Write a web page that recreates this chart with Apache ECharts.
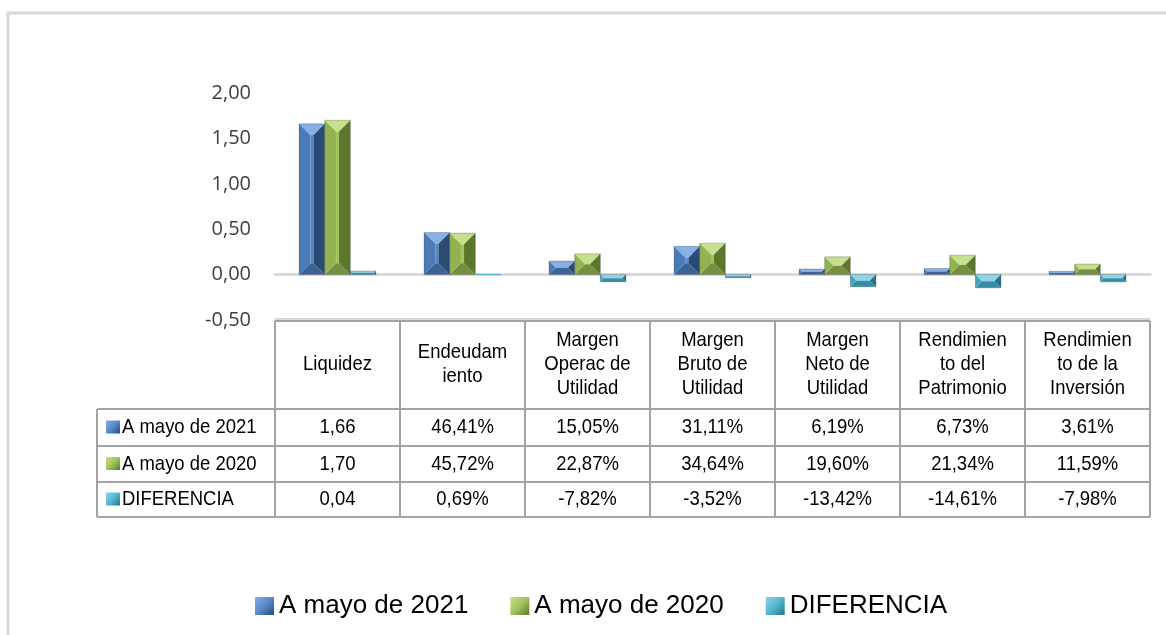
<!DOCTYPE html>
<html>
<head>
<meta charset="utf-8">
<script src="https://cdn.jsdelivr.net/npm/echarts@6/dist/echarts.min.js"></script>
<style>
  html, body { margin: 0; padding: 0; background: #fff; }
  #main { width: 1166px; height: 635px; }
</style>
</head>
<body>
<div id="main"></div>
<script>
  // datos
  const categorias = ['Liquidez', 'Endeudam\niento', 'Margen\nOperac de\nUtilidad', 'Margen\nBruto de\nUtilidad',
    'Margen\nNeto de\nUtilidad', 'Rendimien\nto del\nPatrimonio', 'Rendimien\nto de la\nInversión'];
  const mayo2021 = [1.66, 0.4641, 0.1505, 0.3111, 0.0619, 0.0673, 0.0361];
  const mayo2020 = [1.70, 0.4572, 0.2287, 0.3464, 0.1960, 0.2134, 0.1159];
  const diferencia = [0.04, 0.0069, -0.0782, -0.0352, -0.1342, -0.1461, -0.0798];
  const nombres = ['A mayo de 2021', 'A mayo de 2020', 'DIFERENCIA'];
  const yMin = -0.5, yMax = 2, yPaso = 0.5;

  // colores del bisel (arriba, izquierda, frente, derecha, abajo)
  const paletas = [
    { top: '#86b0e6', left: '#4a7bb7', front: '#5689c8', right: '#2b4b74', bottom: '#3a6396' },
    { top: '#c6e08e', left: '#93b353', front: '#a2c35e', right: '#5c772c', bottom: '#778f40' },
    { top: '#8dd5ea', left: '#44a3bd', front: '#52b6d2', right: '#287287', bottom: '#358ca4' }
  ];

  const fmt = (v, i) => i === 0 ? v.toFixed(2).replace('.', ',') : (v * 100).toFixed(2).replace('.', ',') + '%';

  function bisel(k) {
    const p = paletas[k];
    return function (params, api) {
      const i = api.value(0), v = api.value(1);
      const band = api.size([1, 0])[0];
      const w = band * 0.205;
      const c0 = api.coord([i, 0]);
      const c1 = api.coord([i, v]);
      const x0 = c0[0] + (k - 1.5) * w, x1 = x0 + w;
      const ya = Math.min(c0[1], c1[1]), yb = Math.max(c0[1], c1[1]);
      const h = yb - ya;
      if (h < 2) {
        return { type: 'rect', shape: { x: x0, y: ya, width: w, height: Math.max(h, 1) }, style: { fill: p.front } };
      }
      const d = Math.min(w * 0.44, h / 2);
      const xl = x0 + d, xr = x1 - d;
      return {
        type: 'group',
        children: [
          { type: 'rect', shape: { x: xl, y: ya + d, width: xr - xl, height: h - 2 * d }, style: { fill: p.front } },
          { type: 'polygon', shape: { points: [[x0, ya], [x1, ya], [xr, ya + d], [xl, ya + d]] }, style: { fill: p.top } },
          { type: 'polygon', shape: { points: [[x0, yb], [x1, yb], [xr, yb - d], [xl, yb - d]] }, style: { fill: p.bottom } },
          { type: 'polygon', shape: { points: [[x0, ya], [xl, ya + d], [xl, yb - d], [x0, yb]] }, style: { fill: p.left } },
          { type: 'polygon', shape: { points: [[x1, ya], [xr, ya + d], [xr, yb - d], [x1, yb]] }, style: { fill: p.right } },
          { type: 'rect', shape: { x: x0, y: ya, width: w, height: h }, style: { fill: null, stroke: 'rgba(0,0,0,0.3)', lineWidth: 0.7 } }
        ]
      };
    };
  }

  const chart = echarts.init(document.getElementById('main'));
  const series = [mayo2021, mayo2020, diferencia].map((arr, k) => ({
    name: nombres[k],
    type: 'custom',
    renderItem: bisel(k),
    itemStyle: {
      color: new echarts.graphic.LinearGradient(0, 0, 1, 1, [
        { offset: 0, color: paletas[k].top }, { offset: 0.5, color: paletas[k].front }, { offset: 1, color: paletas[k].right }
      ])
    },
    encode: { x: 0, y: 1 },
    data: arr.map((v, i) => [i, v])
  }));

  const option = {
    animation: false,
    grid: { left: 275, right: 16, top: 93, bottom: 315 },
    legend: {
      data: nombres,
      left: 250, top: 588,
      icon: 'rect', itemWidth: 19, itemHeight: 18, itemGap: 42,
      textStyle: { fontSize: 26, fontFamily: 'Liberation Sans', color: '#000' }
    },
    xAxis: {
      type: 'category', data: categorias,
      axisLine: { onZero: true, lineStyle: { color: '#d9d9d9', width: 3 } },
      axisTick: { show: false }, axisLabel: { show: false }, splitLine: { show: false }
    },
    yAxis: {
      type: 'value', min: yMin, max: yMax, interval: yPaso,
      axisLine: { show: false }, axisTick: { show: false }, splitLine: { show: false },
      axisLabel: {
        margin: 24, fontSize: 20, fontFamily: 'Open Sans', color: '#404040',
        formatter: v => v.toFixed(2).replace('.', ',')
      }
    },
    series: series
  };
  chart.setOption(option);

  // tabla de datos bajo el gráfico
  const xs = categorias.map((c, i) => chart.convertToPixel({ xAxisIndex: 0 }, i));
  const band = xs[1] - xs[0];
  const xIni = xs[0] - band / 2, xFin = xs[xs.length - 1] + band / 2;
  const yTab = chart.convertToPixel({ yAxisIndex: 0 }, yMin);
  const yFilas = [yTab + 89, yTab + 126, yTab + 162, yTab + 197];
  const xIzq = 97;
  const gris = '#a3a3a3';
  const fuente = '21px "Liberation Sans", Arial, sans-serif';
  const esc = 0.88;
  const g = [];

  // texto un poco estrecho, como en la imagen
  const texto = (t, x, y, align, extra) => g.push({
    type: 'text', x: x, y: y, scaleX: esc,
    style: Object.assign({ text: t, x: 0, y: 0, align: align, verticalAlign: 'middle', font: fuente, fill: '#000' }, extra || {})
  });

  g.push({ type: 'rect', silent: true, shape: { x: 8, y: 13, width: 1300, height: 800 },
    style: { fill: null, stroke: '#d9d9d9', lineWidth: 3 } });
  g.push({ type: 'line', shape: { x1: xIni, y1: yTab - 1, x2: xFin, y2: yTab - 1 }, style: { stroke: '#d9d9d9', lineWidth: 2 } });

  const linea = (x1, y1, x2, y2) => g.push({ type: 'line', shape: { x1, y1, x2, y2 }, style: { stroke: gris, lineWidth: 2 } });
  linea(xIni, yTab + 1, xFin, yTab + 1);
  yFilas.forEach(y => linea(xIzq, y, xFin, y));
  linea(xIzq, yFilas[0], xIzq, yFilas[3]);
  for (let c = 0; c <= categorias.length; c++) {
    linea(xIni + c * band, yTab + 1, xIni + c * band, yFilas[3]);
  }

  categorias.forEach((c, i) => texto(c, xs[i], (yTab + yFilas[0]) / 2, 'center', { lineHeight: 24 }));

  [mayo2021, mayo2020, diferencia].forEach((arr, k) => {
    const yc = (yFilas[k] + yFilas[k + 1]) / 2;
    const p = paletas[k];
    g.push({ type: 'rect', shape: { x: 106, y: yc - 7, width: 14, height: 13 },
      style: { fill: new echarts.graphic.LinearGradient(0, 0, 1, 1, [
        { offset: 0, color: p.top }, { offset: 0.5, color: p.front }, { offset: 1, color: p.right }]) } });
    texto(nombres[k], 122, yc, 'left');
    arr.forEach((v, i) => texto(fmt(v, i), xs[i], yc, 'center'));
  });

  chart.setOption({ graphic: { elements: g } });
</script>
</body>
</html>
